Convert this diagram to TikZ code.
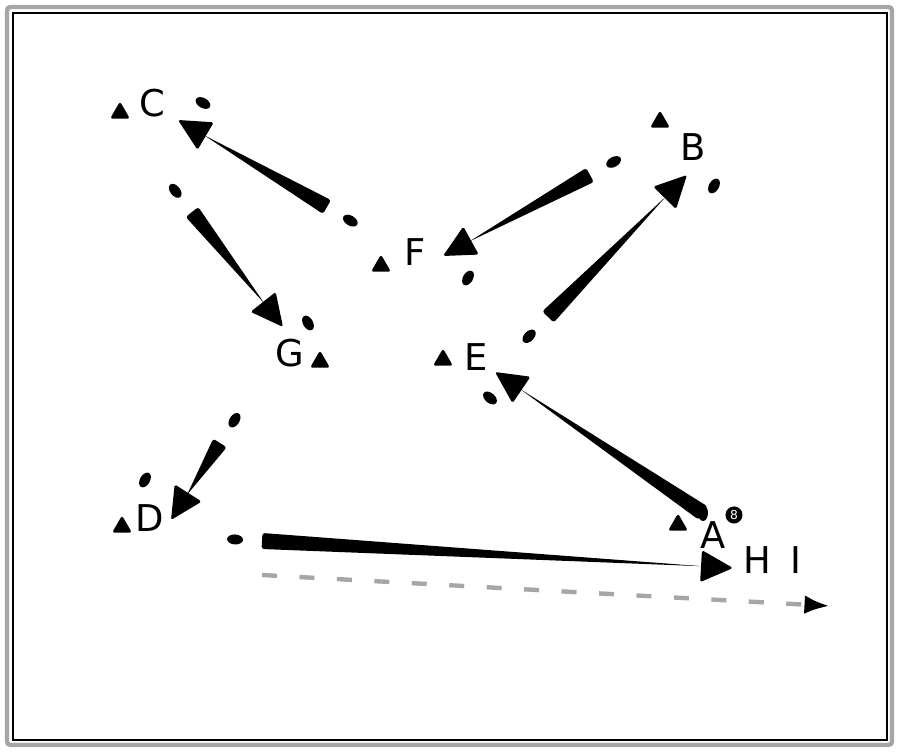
\documentclass[tikz,border=0pt]{standalone}
\usepackage{fontspec}
\setmainfont{DejaVu Sans}
\usetikzlibrary{positioning, calc, shapes.geometric, arrows.meta}

\tikzset{
  letter/.style={inner sep=1pt, font=\fontsize{21}{24}\selectfont},
  tri/.style={regular polygon, regular polygon sides=3, fill, inner sep=0pt,
    minimum size=0.46cm, rounded corners=1.5pt},
  drop/.style={ellipse, fill, inner sep=0pt, minimum width=0.32cm, minimum height=0.2cm},
}
% tapered arrow: wide tail at #2, tip at #3, drop #1 behind the tail
\newcommand{\taper}[3][0.54cm]{%
  \path (#2) coordinate (tl) (#3) coordinate (tp);
  \fill[rounded corners=1.5pt] ($(tl)!0.16cm!90:(tp)$) -- ($(tl)!0.16cm!-90:(tp)$)
    -- ($(tp)!0.6cm!(tl)$) -- cycle;
  \path ($(tp)!0.64cm!(tl)$) coordinate (hb);
  \fill[rounded corners=1pt] ($(hb)!0.32cm!90:(tp)$) -- (tp) -- ($(hb)!0.32cm!-90:(tp)$) -- cycle;
  \path ($(tl)!-#1!(tp)$) -- (tl) node[pos=0, sloped, drop] {};
}

\begin{document}
\begin{tikzpicture}
  \useasboundingbox (0,0) rectangle (18,15.04);
  % frame
  \draw[gray!70, line width=2.5pt, rounded corners=2pt] (0.14,0.14) rectangle (17.84,14.90);
  \draw[line width=0.8pt] (0.26,0.24) rectangle (17.74,14.78);

  \node[letter] (C) at (3.04,12.98) {C};
  \node[letter] (B) at (13.86,12.10) {B};
  \node[letter] (F) at (8.30,10.00) {F};
  \node[letter] (G) at (5.80,7.98) {G};
  \node[letter] (E) at (9.52,7.90) {E};
  \node[letter] (D) at (3.00,4.68) {D};
  \node[letter] (A) at (14.26,4.34) {A};
  \node[letter] (H) at (15.14,3.84) {H};
  \node[letter, right=3mm of H] (I) {I};

  \foreach \n/\dx/\dy in {C/-0.64/-0.20, B/-0.66/0.50, F/-0.68/-0.28, G/0.60/-0.18,
                          E/-0.66/-0.06, D/-0.56/-0.18, A/-0.70/0.20}
    \node[tri] (\n m) at ($(\n)+(\dx,\dy)$) {};
  \node[circle, fill, text=white, inner sep=1pt, font=\scriptsize] (A8) at ($(A)+(0.42,0.40)$) {8};

  % small drops beside the heads
  \foreach \n/\dx/\dy/\a in {C/1.02/0.0/-30, G/0.36/0.60/-60, F/1.06/-0.52/60,
                             B/0.42/-0.78/60, E/0.28/-0.82/-40, D/-0.10/0.76/60}
    \node[drop, rotate=\a] at ($(\n)+(\dx,\dy)$) {};

  \taper{$(F)+(-1.76,0.90)$}{$(C)+(0.52,-0.34)$}
  \taper{$(C)+(0.80,-2.18)$}{$(G)+(-0.14,0.52)$}
  \taper{$(B)+(-2.06,-0.56)$}{$(F)+(0.56,-0.08)$}
  \taper{$(E)+(1.44,0.80)$}{$(B)+(-0.12,-0.56)$}
  \taper[0cm]{$(A)+(-0.20,0.44)$}{$(E)+(0.38,-0.30)$}
  \taper{$(G)+(-1.40,-1.80)$}{$(D)+(0.42,-0.04)$}
  \taper{$(D)+(2.24,-0.46)$}{$(H)+(-0.48,-0.16)$}
  \draw[gray!70, line width=2.5pt, dash pattern=on 0.3cm off 0.45cm, -{Latex[black]}]
    ($(D)+(2.24,-1.14)$) -- ($(I)+(0.68,-0.92)$);
\end{tikzpicture}
\end{document}
